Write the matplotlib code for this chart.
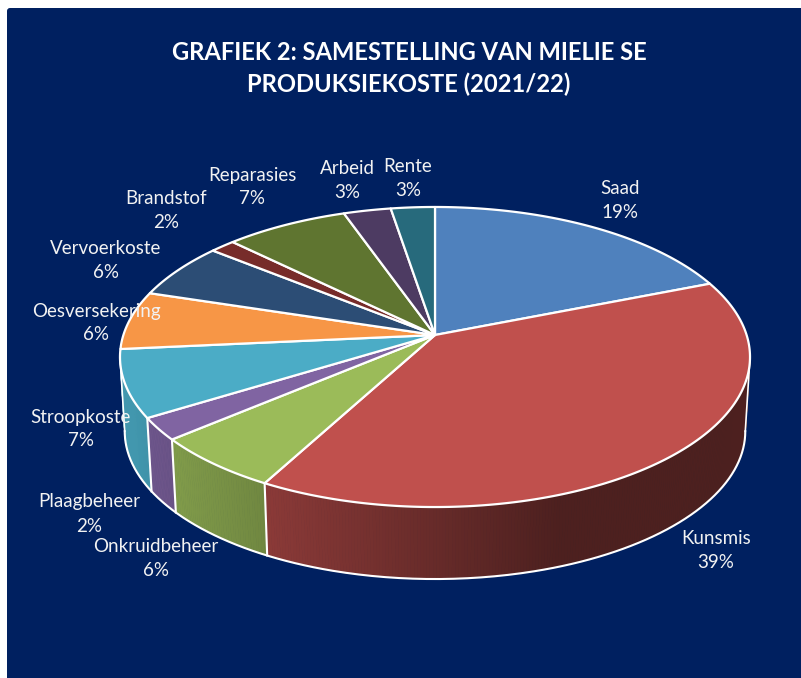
import numpy as np
import matplotlib
matplotlib.use("Agg")
import matplotlib.pyplot as plt
from matplotlib.patches import Polygon, FancyBboxPatch

# Data (slice sizes, the labels show them rounded)
names = ["Saad", "Kunsmis", "Onkruidbeheer", "Plaagbeheer", "Stroopkoste", "Oesversekering",
         "Vervoerkoste", "Brandstof", "Reparasies", "Arbeid", "Rente"]
values = [19.0, 38.9, 5.95, 2.4, 7.25, 6.3, 6.0, 1.5, 7.3, 2.8, 2.6]
colors = ["#4f81bd", "#c0504d", "#9bbb59", "#8064a2", "#4bacc6", "#f79646",
          "#2c4d75", "#772c2a", "#5f7530", "#4d3b62", "#276a7c"]
title = "GRAFIEK 2: SAMESTELLING VAN MIELIE SE\nPRODUKSIEKOSTE (2021/22)"

# label centres in pixels
label_pos = [(620, 200), (716, 551), (156, 559), (89, 514), (81, 429), (96, 323),
             (106, 261), (166, 211), (252, 187), (347, 180), (408, 178)]

navy = "#002060"
cx, cy = 435, 335
A, a, b = 311.6, 146.8, 0.1467


def project(theta):
    # circle -> perspective ellipse, theta clockwise from top
    x = np.sin(theta)
    y = np.cos(theta)
    return cx + A * x / (1 + b * y), cy - a * y / (1 + b * y)


def project_low(theta):
    # bottom rim of the pie
    px, py = project(theta)
    return cx + 0.985 * (px - cx), 431.25 + 0.985 * (py - 357)


def shade(px):
    return np.interp(px, [130, 268, 560], [0.88, 0.72, 0.40])


fig = plt.figure(figsize=(8.01, 6.78), dpi=100, facecolor="white")
ax = fig.add_axes([0, 0, 1, 1])
ax.set_xlim(0, 801)
ax.set_ylim(678, 0)
ax.axis("off")

ax.add_patch(FancyBboxPatch((10, 11), 800, 680, boxstyle="round,pad=3,rounding_size=3",
                            fc=navy, ec="none", zorder=0))

edges = np.cumsum([0] + values) / sum(values) * 2 * np.pi
theta_lim = np.pi / 2 + np.arcsin(b)  # right extreme of the ellipse
theta_end = 2 * np.pi - theta_lim

# side wall
for i, col in enumerate(colors):
    t0 = max(edges[i], theta_lim)
    t1 = min(edges[i + 1], theta_end)
    if t1 <= t0:
        continue
    ts = np.linspace(t0, t1, max(2, int(np.degrees(t1 - t0) * 2)))
    rgb = np.array(matplotlib.colors.to_rgb(col))
    for s0, s1 in zip(ts[:-1], ts[1:]):
        x0, y0 = project(s0)
        x1, y1 = project(s1)
        x2, y2 = project_low(s1)
        x3, y3 = project_low(s0)
        c = rgb * shade((x0 + x1) / 2)
        ax.add_patch(Polygon([(x0, y0), (x1, y1), (x2, y2), (x3, y3)], closed=True,
                             fc=c, ec=c, lw=0.6, zorder=2))
    # white divider on the wall
    if edges[i] >= theta_lim and edges[i] <= theta_end:
        xa, ya = project(edges[i])
        xb, yb = project_low(edges[i])
        ax.plot([xa, xb], [ya, yb], color="white", lw=1.5, zorder=3)

# outline of the wall
ts = np.linspace(theta_lim, theta_end, 300)
xl, yl = project_low(ts)
ax.plot(xl, yl, color="white", lw=1.5, zorder=3)
for t in (theta_lim, theta_end):
    xa, ya = project(t)
    xb, yb = project_low(t)
    ax.plot([xa, xb], [ya, yb], color="white", lw=1.2, zorder=3)

# top face
for i, col in enumerate(colors):
    ts = np.linspace(edges[i], edges[i + 1], max(3, int(np.degrees(edges[i + 1] - edges[i]) * 2)))
    xs, ys = project(ts)
    pts = [(cx, cy)] + list(zip(xs, ys))
    ax.add_patch(Polygon(pts, closed=True, fc=col, ec="white", lw=1.6, joinstyle="round", zorder=4))

# labels
for name, val, (lx, ly) in zip(names, values, label_pos):
    ax.text(lx, ly, f"{name}\n{round(val)}%", color="#f2f2f2", fontsize=13.5, family="Lato",
            ha="center", va="center", multialignment="center", linespacing=1.5, zorder=6)

ax.text(409, 68.5, title, color="white", fontsize=17.1, family="Lato", fontweight="bold",
        ha="center", va="center", multialignment="center", linespacing=1.45, zorder=6)

fig.savefig("out.png", dpi=100)
